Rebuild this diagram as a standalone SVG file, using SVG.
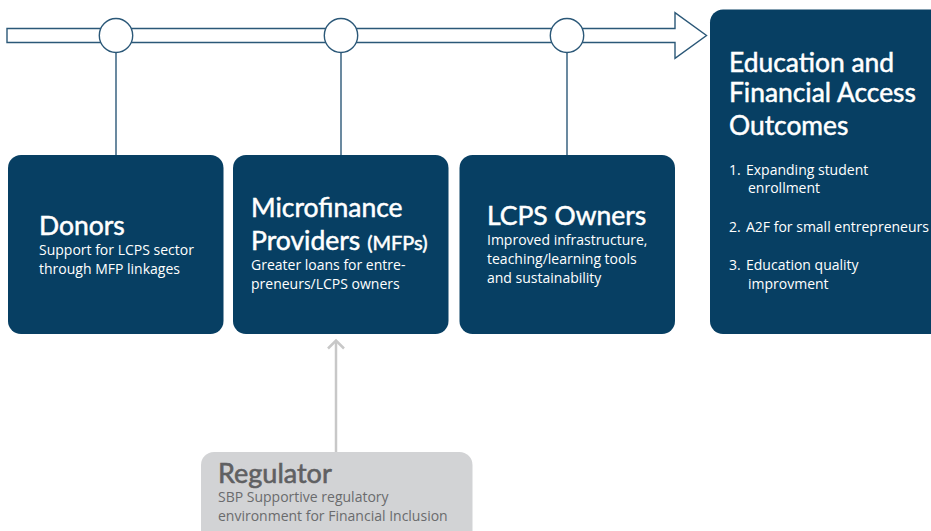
<svg xmlns="http://www.w3.org/2000/svg" width="931" height="531" viewBox="0 0 931 531">
  <style>
    .box { fill: #073f63; }
    /* regular face with a hairline stroke gives a medium weight */
    .title { font-family: "Lato", "Open Sans", sans-serif; fill: #ffffff; stroke: #ffffff; stroke-width: 0.5; font-size: 26.5px; }
    .big { font-size: 26.4px; }
    .body { font-family: "Open Sans", "Noto Sans", sans-serif; fill: #ffffff; font-size: 14px; }
    .line { stroke: #2b5878; stroke-width: 1.4; fill: none; }
    .knot { fill: #ffffff; stroke: #2b5878; stroke-width: 1.4; }
    .reg-box { fill: #d2d3d5; }
    .reg-title { font-family: "Lato", "Open Sans", sans-serif; fill: #5f6062; stroke: #5f6062; stroke-width: 0.6; font-size: 27px; }
    .reg-body { font-family: "Open Sans", "Noto Sans", sans-serif; fill: #6a6b6d; font-size: 14px; }
  </style>

  <!-- timeline arrow with its three stops -->
  <g id="timeline">
    <polygon class="knot" points="7,28.5 675,28.5 675,12.7 706.5,35.5 675,58.3 675,42.5 7,42.5"/>
  </g>

  <g id="connectors">
    <line class="line" x1="116" y1="52" x2="116" y2="156"/>
    <line class="line" x1="341" y1="52" x2="341" y2="156"/>
    <line class="line" x1="567" y1="52" x2="567" y2="156"/>
    <ellipse class="knot" cx="116" cy="35.5" rx="16.7" ry="17"/>
    <ellipse class="knot" cx="341" cy="35.5" rx="16.7" ry="17"/>
    <ellipse class="knot" cx="567" cy="35.5" rx="16.7" ry="17"/>
    <!-- regulator feeding into the MFP box -->
    <line x1="336" y1="461" x2="336" y2="341" stroke="#c8c8c8" stroke-width="2.5"/>
    <polyline points="328,348.5 336,340.5 344,348.5" fill="none" stroke="#c8c8c8" stroke-width="2.5"/>
  </g>

  <g id="donors">
    <rect class="box" x="8" y="155" width="215.5" height="179" rx="13"/>
    <text class="title" x="39" y="234.5">Donors</text>
    <text class="body" x="39" y="254.5">Support for LCPS sector</text>
    <text class="body" x="39" y="273.5">through MFP linkages</text>
  </g>

  <g id="mfp">
    <rect class="box" x="233" y="155" width="215.5" height="179" rx="13"/>
    <text class="title" x="251" y="217">Microfinance</text>
    <text class="title" x="251" y="250">Providers <tspan font-size="20">(MFPs)</tspan></text>
    <text class="body" x="251" y="270">Greater loans for entre-</text>
    <text class="body" x="251" y="288.5">preneurs/LCPS owners</text>
  </g>

  <g id="lcps-owners">
    <rect class="box" x="459.5" y="155" width="215.5" height="179" rx="13"/>
    <text class="title" x="487" y="225">LCPS Owners</text>
    <text class="body" x="487" y="245">Improved infrastructure,</text>
    <text class="body" x="487" y="264">teaching/learning tools</text>
    <text class="body" x="487" y="283">and sustainability</text>
  </g>

  <g id="outcomes">
    <rect class="box" x="710" y="9.5" width="240" height="324.5" rx="13"/>
    <text class="title big" x="729" y="71.5">Education and</text>
    <text class="title big" x="729" y="102">Financial Access</text>
    <text class="title big" x="729" y="135">Outcomes</text>
    <text class="body" x="729" y="174.5">1.</text>
    <text class="body" x="746" y="174.5">Expanding student</text>
    <text class="body" x="748" y="193">enrollment</text>
    <text class="body" x="729" y="231.5">2.</text>
    <text class="body" x="746" y="231.5">A2F for small entrepreneurs</text>
    <text class="body" x="729" y="270">3.</text>
    <text class="body" x="746" y="270">Education quality</text>
    <text class="body" x="748" y="288.5">improvment</text>
  </g>

  <g id="regulator">
    <rect class="reg-box" x="201" y="452" width="271.5" height="100" rx="13"/>
    <text class="reg-title" x="218" y="483">Regulator</text>
    <text class="reg-body" x="218" y="502">SBP Supportive regulatory</text>
    <text class="reg-body" x="218" y="521">environment for Financial Inclusion</text>
  </g>
</svg>
